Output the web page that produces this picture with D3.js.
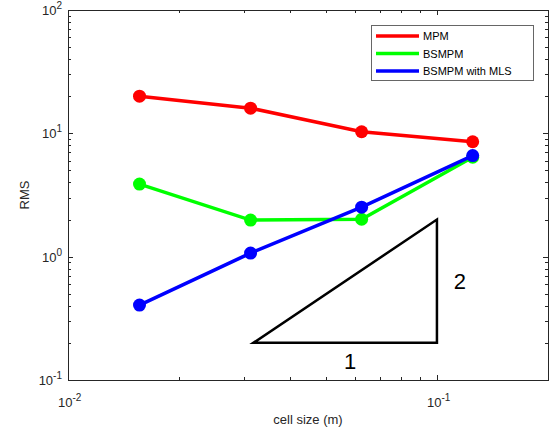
<!DOCTYPE html>
<html>
<head>
  <meta charset="utf-8">
  <script src="https://cdn.jsdelivr.net/npm/d3@7"></script>
  <style>
    body { margin: 0; background: #fff; }
    text { font-family: "Liberation Sans", Arial, Helvetica, sans-serif; fill: #262626; }
  </style>
</head>
<body>
<script>
  // cell sizes (m) and RMS error per method
  var cellSize = [0.015625, 0.03125, 0.0625, 0.125];
  var mpm = [20.0, 16.0, 10.3, 8.55];
  var bsmpm = [3.88, 1.98, 2.01, 6.4];
  var bsmpmMls = [0.405, 1.07, 2.52, 6.6];
  var seriesNames = ["MPM", "BSMPM", "BSMPM with MLS"];
  var seriesColors = ["#ff0000", "#00ff00", "#0000ff"];

  // slope triangle (1:2)
  var triX = [0.0318, 0.1, 0.1];
  var triY = [0.2, 0.2, 2];

  var xTickExp = [-2, -1];
  var yTickExp = [-1, 0, 1, 2];

  var W = 553, H = 432;
  // note: "top" is window.top, so use prefixed names
  var pLeft = 68, pRight = 548, pTop = 10, pBottom = 380;

  var svg = d3.select("body").append("svg")
    .attr("width", W).attr("height", H);

  var x = d3.scaleLog().domain([0.01, 0.2]).range([pLeft, pRight]);
  var y = d3.scaleLog().domain([0.1, 100]).range([pBottom, pTop]);

  /*
    axes box with inward ticks
  */
  var minorX = [], minorY = [];
  for (var k = 2; k <= 9; k++) minorX.push(0.01 * k);
  [0.1, 1, 10].forEach(function(d) {
    for (var k = 2; k <= 9; k++) minorY.push(d * k);
  });
  var majorX = xTickExp.map(function(e) { return Math.pow(10, e); });
  var majorY = yTickExp.map(function(e) { return Math.pow(10, e); });

  var g = svg.append("g").attr("stroke", "#262626").attr("stroke-width", 1);

  function xTicks(vals, len) {
    vals.forEach(function(v) {
      var px = Math.round(x(v)) + 0.5;
      g.append("line").attr("x1", px).attr("x2", px).attr("y1", pBottom).attr("y2", pBottom - len);
      g.append("line").attr("x1", px).attr("x2", px).attr("y1", pTop).attr("y2", pTop + len);
    });
  }
  function yTicks(vals, len) {
    vals.forEach(function(v) {
      var py = Math.round(y(v)) + 0.5;
      g.append("line").attr("x1", pLeft).attr("x2", pLeft + len).attr("y1", py).attr("y2", py);
      g.append("line").attr("x1", pRight).attr("x2", pRight - len).attr("y1", py).attr("y2", py);
    });
  }
  xTicks(majorX, 5); xTicks(minorX, 3);
  yTicks(majorY, 5); yTicks(minorY, 3);

  svg.append("rect")
    .attr("x", pLeft + 0.5).attr("y", pTop + 0.5)
    .attr("width", pRight - pLeft).attr("height", pBottom - pTop)
    .attr("fill", "none").attr("stroke", "#262626").attr("stroke-width", 1);

  /*
    tick labels 10^n
  */
  function powLabel(sel, e) {
    sel.text("10");
    sel.append("tspan").attr("dy", -6).style("font-size", "10px").text(e);
  }
  xTickExp.forEach(function(e) {
    var t = svg.append("text")
      .attr("x", x(Math.pow(10, e)) - 10).attr("y", pBottom + 27)
      .style("font-size", "13px");
    powLabel(t, e);
  });
  yTickExp.forEach(function(e) {
    var t = svg.append("text")
      .attr("x", pLeft - 6).attr("y", y(Math.pow(10, e)) + 5)
      .attr("text-anchor", "end")
      .style("font-size", "13px");
    powLabel(t, e);
  });

  svg.append("text")
    .attr("x", (pLeft + pRight) / 2).attr("y", 424)
    .attr("text-anchor", "middle").style("font-size", "13px")
    .text("cell size (m)");
  svg.append("text")
    .attr("transform", "translate(29," + ((pTop + pBottom) / 2) + ") rotate(-90)")
    .attr("text-anchor", "middle").style("font-size", "13px")
    .text("RMS");

  /*
    slope triangle
  */
  var tri = triX.map(function(d, i) { return [x(d), y(triY[i])]; });
  svg.append("path")
    .attr("d", "M" + tri.join("L") + "Z")
    .attr("fill", "none").attr("stroke", "#000").attr("stroke-width", 2.5);
  svg.append("text")
    .attr("x", x(Math.sqrt(triX[0] * triX[1])) + 5).attr("y", y(triY[0]) + 26)
    .attr("text-anchor", "middle").style("font-size", "22px").style("fill", "#000")
    .text("1");
  svg.append("text")
    .attr("x", x(triX[1]) + 23).attr("y", y(Math.sqrt(triY[1] * triY[2])) + 8)
    .attr("text-anchor", "middle").style("font-size", "22px").style("fill", "#000")
    .text("2");

  /*
    series
  */
  var allSeries = [mpm, bsmpm, bsmpmMls];
  var line = d3.line()
    .x(function(d) { return x(d[0]); })
    .y(function(d) { return y(d[1]); });
  allSeries.forEach(function(vals, i) {
    var pts = cellSize.map(function(c, j) { return [c, vals[j]]; });
    svg.append("path").datum(pts)
      .attr("d", line)
      .attr("fill", "none")
      .attr("stroke", seriesColors[i])
      .attr("stroke-width", 3.5);
    svg.selectAll(null).data(pts).enter().append("circle")
      .attr("cx", function(d) { return x(d[0]); })
      .attr("cy", function(d) { return y(d[1]); })
      .attr("r", 6.5)
      .attr("fill", seriesColors[i]);
  });

  /*
    legend
  */
  var lg = svg.append("g");
  lg.append("rect")
    .attr("x", 371.5).attr("y", 25.5).attr("width", 162).attr("height", 55)
    .attr("fill", "#fff").attr("stroke", "#666").attr("stroke-width", 1);
  seriesNames.forEach(function(name, i) {
    var ly = 36 + i * 17.5;
    lg.append("line")
      .attr("x1", 376).attr("x2", 419).attr("y1", ly).attr("y2", ly)
      .attr("stroke", seriesColors[i]).attr("stroke-width", 3.5);
    lg.append("text")
      .attr("x", 423).attr("y", ly + 4)
      .style("font-size", "11px").style("fill", "#000")
      .text(name);
  });
</script>
</body>
</html>
